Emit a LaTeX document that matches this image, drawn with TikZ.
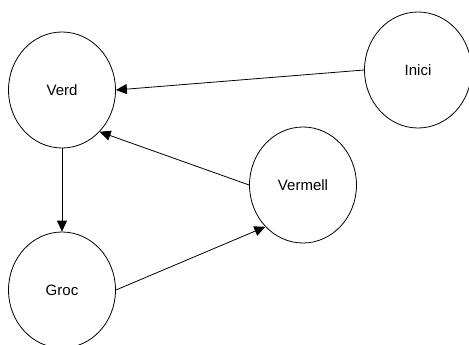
\documentclass[tikz,border=0pt]{standalone}
\usepackage{fontspec}
\setmainfont{Liberation Sans}
\usetikzlibrary{shapes.geometric,arrows.meta}
\begin{document}
\begin{tikzpicture}[x=1pt, y=-1pt, >={Triangle[length=11pt,width=10pt]}, line width=0.8pt,
  state/.style={draw, ellipse, minimum width=107pt, minimum height=116pt, inner sep=0pt, font=\fontsize{15}{18}\selectfont}]
  \useasboundingbox (0,0) rectangle (469,345);

  \node[state] (verd) at (62,90) {Verd};
  \node[state] (groc) at (62,290) {Groc};
  \node[state] (vermell) at (303,185) {Vermell};
  \node[state] (inici) at (418,70) {Inici};

  \draw[->] (inici.west) -- (verd.east);
  \draw[->] (vermell.west) -- (verd.-48);
  \draw[->] (verd.south) -- (groc.north);
  \draw[->] (groc.east) -- (vermell.-132);
\end{tikzpicture}
\end{document}
